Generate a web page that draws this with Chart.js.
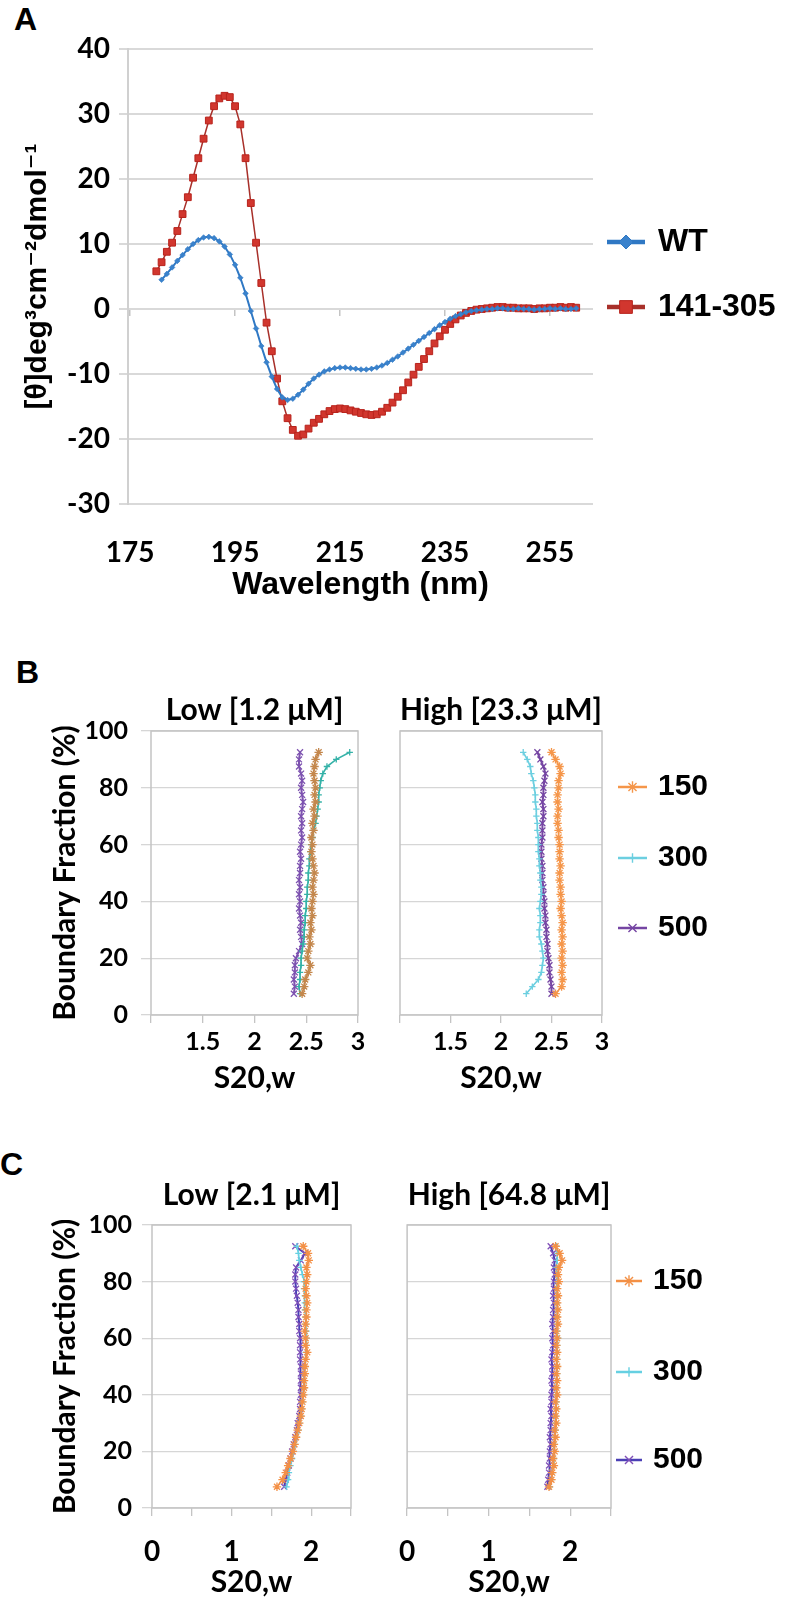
<!DOCTYPE html>
<html>
<head>
<meta charset="utf-8">
<script src="https://cdn.jsdelivr.net/npm/chart.js@4.4.1/dist/chart.umd.min.js"></script>
<style>
  body { margin: 0; background: #fff; }
  #page { position: relative; width: 788px; height: 1600px; overflow: hidden; background: #fff; }
  #page canvas { position: absolute; }
  .tag { position: absolute; font: bold 32px "Liberation Sans", Arial, sans-serif; line-height: 32px; color: #000; }
</style>
</head>
<body>
<div id="page">
  <div class="tag" style="left:14px; top:3px;">A</div>
  <div class="tag" style="left:16px; top:656px;">B</div>
  <div class="tag" style="left:0px; top:1148px;">C</div>
  <canvas id="cA" width="788" height="610" style="left:0; top:0;"></canvas>
  <canvas id="cBlow" width="370" height="420" style="left:0; top:680px;"></canvas>
  <canvas id="cBhigh" width="408" height="420" style="left:380px; top:680px;"></canvas>
  <canvas id="cClow" width="370" height="440" style="left:0; top:1160px;"></canvas>
  <canvas id="cChigh" width="408" height="440" style="left:380px; top:1160px;"></canvas>
</div>
<script>
// ---- panel A: CD spectra ----
const wlRed = [180, 181, 182, 183, 184, 185, 186, 187, 188, 189, 190, 191, 192, 193, 194, 195, 196, 197, 198, 199,
  200, 201, 202, 203, 204, 205, 206, 207, 208, 209, 210, 211, 212, 213, 214, 215, 216, 217, 218, 219,
  220, 221, 222, 223, 224, 225, 226, 227, 228, 229, 230, 231, 232, 233, 234, 235, 236, 237, 238, 239,
  240, 241, 242, 243, 244, 245, 246, 247, 248, 249, 250, 251, 252, 253, 254, 255, 256, 257, 258, 259, 260];
const cdRed = [5.8, 7.2, 8.8, 10.2, 12.0, 14.6, 17.2, 20.2, 23.2, 26.2, 29.0, 31.2, 32.4, 32.8, 32.6, 31.2, 28.4, 23.2, 16.3, 10.2,
  4.0, -2.1, -6.5, -10.7, -14.2, -16.8, -18.6, -19.5, -19.3, -18.4, -17.5, -16.9, -16.2, -15.7, -15.4, -15.3, -15.4, -15.6, -15.8, -16.0,
  -16.2, -16.3, -16.2, -15.8, -15.2, -14.4, -13.5, -12.5, -11.3, -10.1, -8.9, -7.7, -6.5, -5.3, -4.2, -3.2, -2.3, -1.6, -1.0, -0.6,
  -0.3, -0.1, 0.0, 0.1, 0.2, 0.3, 0.3, 0.2, 0.2, 0.1, 0.1, 0.1, 0.0, 0.1, 0.1, 0.2, 0.2, 0.3, 0.2, 0.3, 0.2];
const wlWT = [181, 182, 183, 184, 185, 186, 187, 188, 189, 190, 191, 192, 193, 194, 195, 196, 197, 198, 199, 200,
  201, 202, 203, 204, 205, 206, 207, 208, 209, 210, 211, 212, 213, 214, 215, 216, 217, 218, 219, 220,
  221, 222, 223, 224, 225, 226, 227, 228, 229, 230, 231, 232, 233, 234, 235, 236, 237, 238, 239, 240,
  241, 242, 243, 244, 245, 246, 247, 248, 249, 250, 251, 252, 253, 254, 255, 256, 257, 258, 259, 260];
const cdWT = [4.5, 5.4, 6.4, 7.4, 8.3, 9.2, 10.0, 10.6, 11.0, 11.1, 10.9, 10.4, 9.6, 8.4, 6.8, 4.8, 2.4, -0.3, -3.0, -5.7,
  -8.2, -10.4, -12.3, -13.6, -14.0, -13.8, -13.2, -12.4, -11.5, -10.7, -10.1, -9.6, -9.3, -9.1, -9.0, -9.0, -9.1, -9.2, -9.3, -9.3,
  -9.2, -9.0, -8.7, -8.3, -7.8, -7.3, -6.7, -6.1, -5.5, -4.9, -4.3, -3.7, -3.1, -2.5, -2.0, -1.5, -1.1, -0.8, -0.5, -0.3,
  -0.2, -0.1, 0.0, 0.0, 0.1, 0.1, 0.0, 0.0, 0.1, 0.0, 0.0, -0.1, 0.0, 0.0, 0.1, 0.0, 0.1, 0.0, 0.0, 0.1];
const wlTicks = [175, 195, 215, 235, 255];

// ---- panels B and C: van Holde-Weischet distributions ----
const fraction = [7.5, 10, 12.5, 15, 17.5, 20, 22.5, 25, 27.5, 30, 32.5, 35, 37.5, 40, 42.5, 45, 47.5, 50,
  52.5, 55, 57.5, 60, 62.5, 65, 67.5, 70, 72.5, 75, 77.5, 80, 82.5, 85, 87.5, 90, 92.5];
const speeds = ['150', '300', '500'];

const bLow150 = [2.46, 2.48, 2.49, 2.52, 2.54, 2.51, 2.52, 2.54, 2.53, 2.55, 2.54, 2.56, 2.55, 2.56, 2.57, 2.56, 2.57, 2.58,
  2.57, 2.56, 2.55, 2.56, 2.55, 2.57, 2.56, 2.58, 2.57, 2.59, 2.58, 2.59, 2.58, 2.57, 2.58, 2.59, 2.62];
const bLow300 = [2.44, 2.43, 2.44, 2.44, 2.45, 2.45, 2.46, 2.47, 2.48, 2.48, 2.49, 2.49, 2.50, 2.50, 2.51, 2.51, 2.52, 2.52,
  2.53, 2.53, 2.54, 2.55, 2.56, 2.57, 2.59, 2.60, 2.61, 2.62, 2.62, 2.63, 2.64, 2.66, 2.70, 2.79, 2.92];
const bLow500 = [2.38, 2.39, 2.38, 2.39, 2.39, 2.40, 2.43, 2.46, 2.45, 2.44, 2.45, 2.44, 2.43, 2.44, 2.43, 2.44, 2.43, 2.44,
  2.44, 2.45, 2.44, 2.45, 2.46, 2.45, 2.46, 2.45, 2.46, 2.47, 2.46, 2.45, 2.46, 2.45, 2.43, 2.43, 2.44];
const bHigh150 = [2.54, 2.60, 2.61, 2.60, 2.61, 2.60, 2.61, 2.60, 2.61, 2.60, 2.61, 2.60, 2.59, 2.60, 2.59, 2.59, 2.58, 2.58,
  2.59, 2.58, 2.58, 2.58, 2.57, 2.57, 2.56, 2.56, 2.57, 2.56, 2.56, 2.57, 2.57, 2.59, 2.58, 2.54, 2.50];
const bHigh300 = [2.25, 2.31, 2.37, 2.40, 2.41, 2.42, 2.41, 2.40, 2.38, 2.38, 2.39, 2.39, 2.38, 2.39, 2.40, 2.40, 2.39, 2.39,
  2.38, 2.38, 2.37, 2.37, 2.37, 2.36, 2.36, 2.35, 2.35, 2.34, 2.34, 2.33, 2.32, 2.30, 2.29, 2.26, 2.22];
const bHigh500 = [2.50, 2.50, 2.49, 2.48, 2.48, 2.47, 2.46, 2.46, 2.45, 2.45, 2.44, 2.44, 2.43, 2.43, 2.42, 2.42, 2.41, 2.41,
  2.41, 2.40, 2.40, 2.40, 2.41, 2.41, 2.41, 2.42, 2.42, 2.41, 2.42, 2.42, 2.43, 2.44, 2.42, 2.39, 2.36];

const cLow150 = [1.57, 1.64, 1.68, 1.71, 1.74, 1.77, 1.79, 1.81, 1.83, 1.85, 1.87, 1.88, 1.89, 1.90, 1.91, 1.91, 1.92, 1.92,
  1.93, 1.95, 1.93, 1.93, 1.92, 1.93, 1.94, 1.94, 1.95, 1.94, 1.93, 1.94, 1.95, 1.94, 1.97, 1.96, 1.90];
const cLow300 = [1.69, 1.71, 1.72, 1.74, 1.76, 1.78, 1.80, 1.82, 1.84, 1.85, 1.87, 1.88, 1.89, 1.90, 1.91, 1.91, 1.92, 1.92,
  1.93, 1.93, 1.94, 1.94, 1.94, 1.93, 1.93, 1.92, 1.92, 1.92, 1.91, 1.91, 1.89, 1.87, 1.85, 1.84, 1.82];
const cLow500 = [1.66, 1.68, 1.70, 1.72, 1.74, 1.76, 1.78, 1.80, 1.82, 1.83, 1.85, 1.86, 1.86, 1.87, 1.87, 1.87, 1.87, 1.87,
  1.86, 1.86, 1.86, 1.86, 1.85, 1.85, 1.84, 1.84, 1.83, 1.82, 1.81, 1.80, 1.80, 1.81, 1.87, 1.92, 1.80];
const cHigh150 = [1.74, 1.77, 1.78, 1.80, 1.79, 1.81, 1.80, 1.82, 1.81, 1.83, 1.82, 1.83, 1.82, 1.84, 1.83, 1.84, 1.83, 1.84,
  1.83, 1.84, 1.83, 1.84, 1.83, 1.85, 1.84, 1.85, 1.84, 1.85, 1.84, 1.86, 1.85, 1.86, 1.90, 1.87, 1.82];
const cHigh300 = [1.75, 1.77, 1.78, 1.79, 1.80, 1.80, 1.81, 1.81, 1.82, 1.82, 1.82, 1.83, 1.83, 1.83, 1.83, 1.83, 1.84, 1.84,
  1.84, 1.84, 1.84, 1.85, 1.84, 1.84, 1.84, 1.84, 1.84, 1.84, 1.83, 1.84, 1.84, 1.83, 1.84, 1.84, 1.83];
const cHigh500 = [1.72, 1.73, 1.74, 1.74, 1.75, 1.75, 1.76, 1.75, 1.76, 1.76, 1.77, 1.76, 1.77, 1.77, 1.78, 1.77, 1.78, 1.78,
  1.77, 1.78, 1.79, 1.78, 1.79, 1.78, 1.79, 1.79, 1.80, 1.79, 1.80, 1.80, 1.81, 1.80, 1.81, 1.79, 1.76];

Chart.defaults.font.family = 'Lato, "Noto Sans", "DejaVu Sans", sans-serif';
Chart.defaults.font.weight = 'bold';
Chart.defaults.color = '#000';

const ARIAL = '"Liberation Sans", Arial, "DejaVu Sans", sans-serif';
const pts = (xs, ys) => xs.map((x, i) => ({ x: x, y: ys[i] }));

// legend drawn to the right of the plot: a short line with the marker on it, then the label
const sideLegend = {
  id: 'sideLegend',
  afterDraw(chart, args, o) {
    if (!o.rows) return;
    const { ctx, chartArea } = chart;
    const h = Chart.helpers;
    ctx.save();
    chart.data.datasets.forEach((ds, i) => {
      const y = chartArea.top + o.rows[i];
      const x0 = chartArea.right + o.gap;
      ctx.strokeStyle = ds.borderColor;
      ctx.lineWidth = o.lineWidth;
      ctx.beginPath();
      ctx.moveTo(x0, y);
      ctx.lineTo(x0 + o.length, y);
      ctx.stroke();
      if (h && h.drawPoint) {
        ctx.fillStyle = ds.pointBackgroundColor || ds.backgroundColor;
        ctx.strokeStyle = ds.pointBorderColor || ds.borderColor;
        ctx.lineWidth = o.markerBorder;
        h.drawPoint(ctx, { pointStyle: ds.pointStyle, radius: ds.legendRadius || 5, borderWidth: o.markerBorder, rotation: 0 },
          x0 + o.length / 2, y);
      }
      ctx.fillStyle = '#000';
      ctx.font = o.font;
      ctx.textAlign = 'left';
      ctx.textBaseline = 'middle';
      ctx.fillText(ds.label, x0 + o.length + o.textGap, y);
    });
    ctx.restore();
  }
};

// thin grey frame round the plot area (panels B and C)
const plotBox = {
  id: 'plotBox',
  beforeDatasetsDraw(chart, args, o) {
    const { ctx, chartArea: c } = chart;
    ctx.save();
    ctx.strokeStyle = o.color || '#c4c4c4';
    ctx.lineWidth = o.width || 1.5;
    ctx.strokeRect(c.left, c.top, c.right - c.left, c.bottom - c.top);
    ctx.restore();
  }
};

// ---------- Panel A ----------
new Chart(document.getElementById('cA'), {
  type: 'scatter',
  data: {
    datasets: [
      {
        label: 'WT', data: pts(wlWT, cdWT), showLine: true,
        borderColor: '#2f78c4', backgroundColor: '#3a82cc', borderWidth: 2,
        pointStyle: 'rectRot', pointRadius: 2.8, pointBorderWidth: 0.6, pointBorderColor: '#2f78c4',
        legendRadius: 7
      },
      {
        label: '141-305', data: pts(wlRed, cdRed), showLine: true,
        borderColor: '#a8302a', backgroundColor: '#d1362e', borderWidth: 1.5,
        pointStyle: 'rect', pointRadius: 4.8, pointBorderWidth: 1, pointBorderColor: '#b8231c',
        legendRadius: 9
      }
    ]
  },
  options: {
    responsive: false, animation: false, devicePixelRatio: 1,
    layout: { padding: { top: 49, right: 195, bottom: 0, left: 0 } },
    plugins: {
      legend: { display: false }, tooltip: { enabled: false },
      sideLegend: { rows: [193, 258], gap: 14, length: 38, textGap: 13, lineWidth: 4.5, markerBorder: 1,
        font: 'bold 32px ' + ARIAL }
    },
    scales: {
      x: {
        type: 'linear', position: 'bottom', min: 174.6, max: 263.2,
        afterBuildTicks: s => { s.ticks = wlTicks.map(v => ({ value: v })); },
        grid: { display: false }, border: { display: false },
        ticks: { padding: 24, font: { size: 28 } },
        title: { display: true, text: 'Wavelength (nm)', font: { family: ARIAL, size: 32, weight: 'bold' },
          padding: { top: 0, bottom: 6 } },
        afterFit: s => { s.height = 106; }
      },
      x0: {
        type: 'linear', position: { y: 0 }, min: 174.6, max: 263.2,
        afterBuildTicks: s => { s.ticks = wlTicks.map(v => ({ value: v })); },
        grid: { drawOnChartArea: false, drawTicks: true, tickLength: 7, color: '#c4c4c4', lineWidth: 1.5 },
        border: { display: false },
        ticks: { display: false }
      },
      y: {
        min: -30, max: 40,
        ticks: { stepSize: 10, padding: 9, font: { size: 28 } },
        grid: { color: '#d9d9d9', lineWidth: 2, tickLength: 9 },
        border: { color: '#d0d0d0', width: 2 },
        title: { display: true, text: '[θ]deg³cm⁻²dmol⁻¹', font: { family: ARIAL, size: 30, weight: 'bold' },
          padding: { top: 20, bottom: 0 } },
        afterFit: s => { s.width = 128; }
      }
    }
  },
  plugins: [sideLegend]
});

// ---------- Panels B and C ----------
function makeSeries(vals, colors, lineColors) {
  const styles = ['star', 'cross', 'crossRot'];
  const radii = [4.2, 3.2, 4.2];
  return vals.map((v, i) => ({
    label: speeds[i], data: pts(v, fraction), showLine: true,
    borderColor: lineColors ? lineColors[i] : colors[i], backgroundColor: colors[i],
    pointBorderColor: colors[i], pointBackgroundColor: colors[i],
    borderWidth: i === 2 ? 2 : 1.6, pointStyle: styles[i], pointRadius: radii[i], pointBorderWidth: 1.3,
    legendRadius: radii[i] + 1.5
  }));
}

function sedChart(id, cfg) {
  const low = cfg.low;
  const scales = {
    x: {
      type: 'linear', min: cfg.xmin, max: cfg.xmax,
      ticks: { stepSize: 0.5, padding: cfg.xPad, font: { size: cfg.xFont }, callback: cfg.xLabel },
      grid: { drawOnChartArea: false, drawTicks: true, tickLength: 8, color: '#c4c4c4', lineWidth: 1.3 },
      border: { display: false },
      title: { display: true, text: 'S20,w', font: { size: 30 }, padding: { top: 0, bottom: cfg.xTitlePad } },
      afterFit: s => { s.height = cfg.xHeight; }
    },
    y: {
      min: 0, max: 100,
      ticks: { stepSize: 20, display: low, padding: cfg.yPad, font: { size: 25 } },
      grid: { color: '#d6d6d6', lineWidth: 1.3, drawTicks: low, tickLength: 10 },
      border: { display: false },
      title: { display: low, text: 'Boundary Fraction (%)', font: { size: 30 }, padding: { top: 47, bottom: 0 } },
      afterFit: s => { s.width = cfg.yWidth; }
    }
  };
  return new Chart(document.getElementById(id), {
    type: 'scatter',
    data: { datasets: makeSeries(cfg.values, cfg.colors, cfg.lineColors) },
    options: {
      responsive: false, animation: false, devicePixelRatio: 1,
      layout: { padding: { top: 0, right: cfg.padRight, bottom: 0, left: 0 } },
      plugins: {
        legend: { display: false }, tooltip: { enabled: false },
        title: { display: true, text: cfg.title, fullSize: false, font: { size: 30 },
          padding: { top: cfg.titleTop, bottom: cfg.titleBottom } },
        plotBox: { color: '#c4c4c4', width: 1.5 },
        sideLegend: cfg.legend || {}
      },
      scales: scales
    },
    plugins: [plotBox, sideLegend]
  });
}

const bColorsLow = ['#c4874c', '#35b2a8', '#7d52b0'];
const bColorsHigh = ['#f5964a', '#6ccfe0', '#7545a3'];
const cColors = ['#f39046', '#66d0e2', '#8050b8'];
const cLines = ['#f39046', '#66d0e2', '#4a3fb5'];
const labelB = v => (v === 1 ? '' : String(v));
const labelC = v => (Math.abs(v - Math.round(v)) < 1e-6 ? String(Math.round(v)) : '');

sedChart('cBlow', {
  low: true, title: 'Low [1.2 μM]', values: [bLow150, bLow300, bLow500], colors: bColorsLow,
  xmin: 1, xmax: 3, xLabel: labelB, xFont: 25, xPad: 4, xTitlePad: 4, xHeight: 85,
  yWidth: 151, yPad: 13, padRight: 12, titleTop: 12, titleBottom: 3
});
sedChart('cBhigh', {
  low: false, title: 'High [23.3 μM]', values: [bHigh150, bHigh300, bHigh500], colors: bColorsHigh,
  xmin: 1, xmax: 3, xLabel: labelB, xFont: 25, xPad: 4, xTitlePad: 4, xHeight: 85,
  yWidth: 20, yPad: 0, padRight: 186, titleTop: 12, titleBottom: 3,
  legend: { rows: [56, 127, 197], gap: 16, length: 29, textGap: 11, lineWidth: 2.5, markerBorder: 1.4,
    font: 'bold 30px ' + ARIAL }
});
sedChart('cClow', {
  low: true, title: 'Low [2.1 μM]', values: [cLow150, cLow300, cLow500], colors: cColors, lineColors: cLines,
  xmin: 0, xmax: 2.5, xLabel: labelC, xFont: 28, xPad: 19, xTitlePad: 0, xHeight: 92,
  yWidth: 152, yPad: 10, padRight: 14, titleTop: 17, titleBottom: 12
});
sedChart('cChigh', {
  low: false, title: 'High [64.8 μM]', values: [cHigh150, cHigh300, cHigh500], colors: cColors, lineColors: cLines,
  xmin: 0, xmax: 2.5, xLabel: labelC, xFont: 28, xPad: 19, xTitlePad: 0, xHeight: 92,
  yWidth: 27, yPad: 0, padRight: 177, titleTop: 17, titleBottom: 12,
  legend: { rows: [56, 147, 235], gap: 5, length: 26, textGap: 11, lineWidth: 2.5, markerBorder: 1.4,
    font: 'bold 30px ' + ARIAL }
});
</script>
</body>
</html>
